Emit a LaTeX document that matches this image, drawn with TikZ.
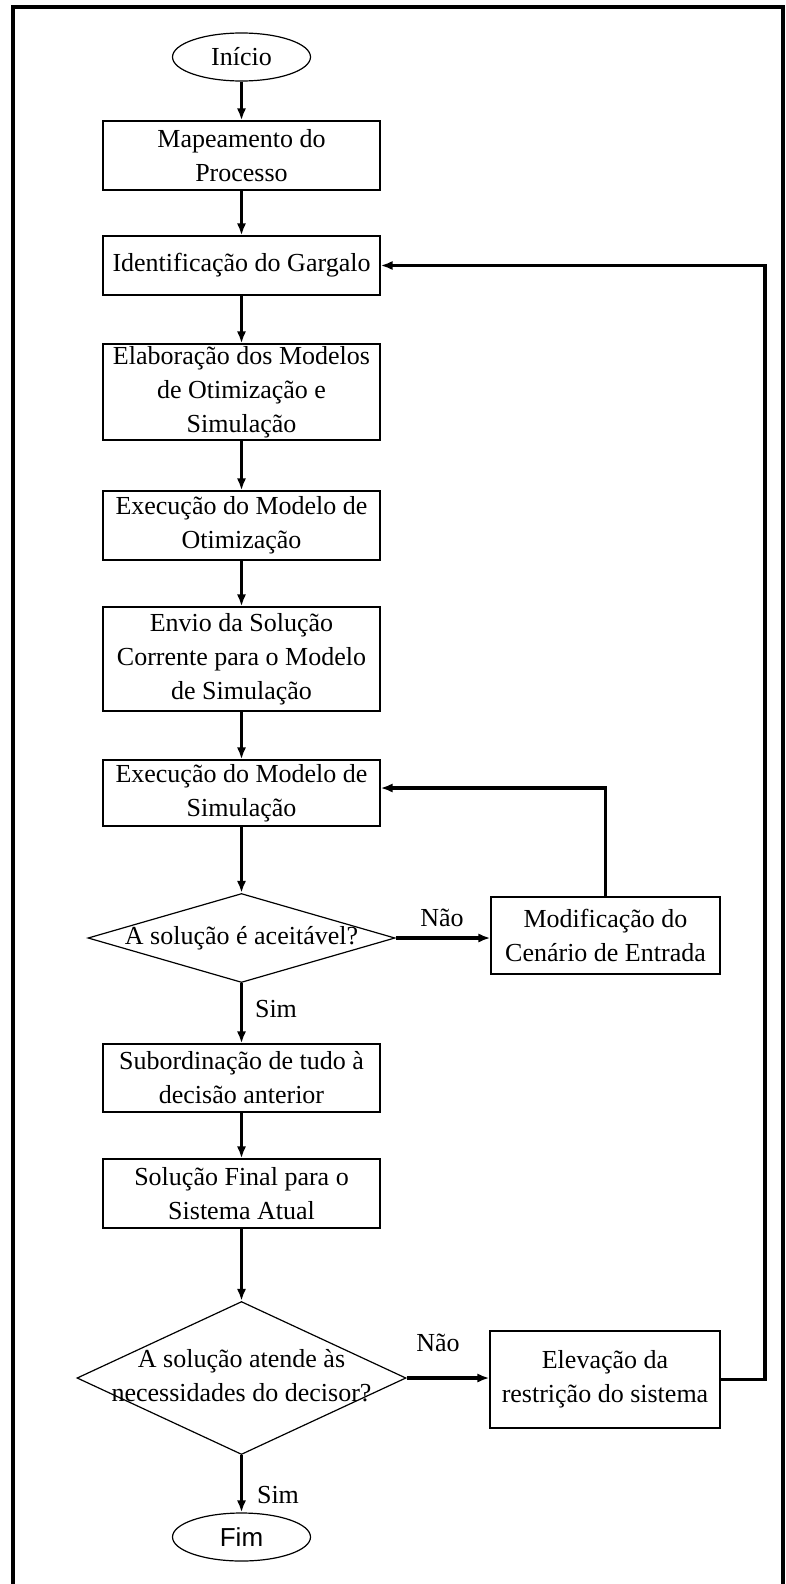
\documentclass[tikz,border=0pt]{standalone}
\usepackage{fontspec}
\setmainfont{Liberation Serif}
\newfontfamily\fimfont{Liberation Sans}
\usetikzlibrary{shapes.geometric,arrows.meta}

\tikzset{
	proc/.style={draw, line width=0.6pt, minimum width=138.5pt, align=center, inner sep=1pt, font=\fontsize{13}{17}\selectfont},
	term/.style={draw, ellipse, line width=0.6pt, minimum width=69pt, minimum height=24pt, inner sep=0pt, font=\fontsize{13}{17}\selectfont},
	decision/.style={draw, diamond, line width=0.6pt, inner sep=0pt, font=\fontsize{13}{17}\selectfont},
	flow/.style={->, line width=1.6pt},
	answer/.style={inner sep=0pt, font=\fontsize{13}{17}\selectfont},
}

\begin{document}
\begin{tikzpicture}[x=0.5pt, y=-0.5pt, >={Latex[length=6pt,width=4.6pt]}]
	\useasboundingbox (0,0) rectangle (786,1584);

	% frame
	\draw[line width=1.6pt] (13,1584) -- (13,7) -- (783,7) -- (783,1584);

	% main column
	\node[term] (inicio) at (241.5,57) {Início};
	\node[proc, minimum height=34.5pt] (mapa) at (241.5,155.5) {Mapeamento do\\Processo};
	\node[proc, minimum height=29.5pt] (ident) at (241.5,265.5) {Identificação do Gargalo};
	\node[proc, minimum height=48pt] (elab) at (241.5,392) {Elaboração dos Modelos\\de Otimização e\\Simulação};
	\node[proc, minimum height=34.5pt] (exotim) at (241.5,525.5) {Execução do Modelo de\\Otimização};
	\node[proc, minimum height=52pt] (envio) at (241.5,659) {Envio da Solução\\Corrente para o Modelo\\de Simulação};
	\node[proc, minimum height=33pt] (exsim) at (241.5,793) {Execução do Modelo de\\Simulação};
	\node[decision, minimum width=153.5pt, minimum height=44.5pt] (dec1) at (241.5,938) {\makebox[0pt]{A solução é aceitável?}};
	\node[proc, minimum height=34pt] (subord) at (241.5,1078) {Subordinação de tudo à\\decisão anterior};
	\node[proc, minimum height=34.5pt] (final) at (241.5,1193.5) {Solução Final para o\\Sistema Atual};
	\node[decision, minimum width=164.5pt, minimum height=76.5pt] (dec2) at (241.5,1378) {\makebox[0pt]{\begin{tabular}{@{}c@{}}A solução atende às\\necessidades do decisor?\end{tabular}}};
	\node[term, font=\fontsize{13}{17}\fimfont] (fim) at (241.5,1537) {Fim};

	% right column
	\node[proc, minimum width=114.5pt, minimum height=38.5pt] (modif) at (605.5,935.5) {Modificação do\\Cenário de Entrada};
	\node[proc, minimum width=115pt, minimum height=48.5pt] (elev) at (605,1379.5) {Elevação da\\restrição do sistema};
	\coordinate (rside) at (765,0);

	% arrows
	\foreach \a/\b in {inicio/mapa, mapa/ident, ident/elab, elab/exotim, exotim/envio, envio/exsim, exsim/dec1, dec1/subord, subord/final, final/dec2, dec2/fim}
		\draw[flow] (\a) -- (\b);
	\draw[flow] (dec1.east) -- (dec1.east -| modif.west);
	\draw[flow] (dec2.east) -- (dec2.east -| elev.west);
	\draw[flow] (modif.north) |- ([yshift=2.5pt]exsim.east);
	\draw[flow] (elev.east) -- (elev.east -| rside) |- (ident.east);

	% answers
	\node[answer] (nao1) at (442,918) {Não};
	\node[answer] (sim1) at (276,1009) {Sim};
	\node[answer] (nao2) at (438,1343) {Não};
	\node[answer] (sim2) at (278,1495) {Sim};
\end{tikzpicture}
\end{document}
